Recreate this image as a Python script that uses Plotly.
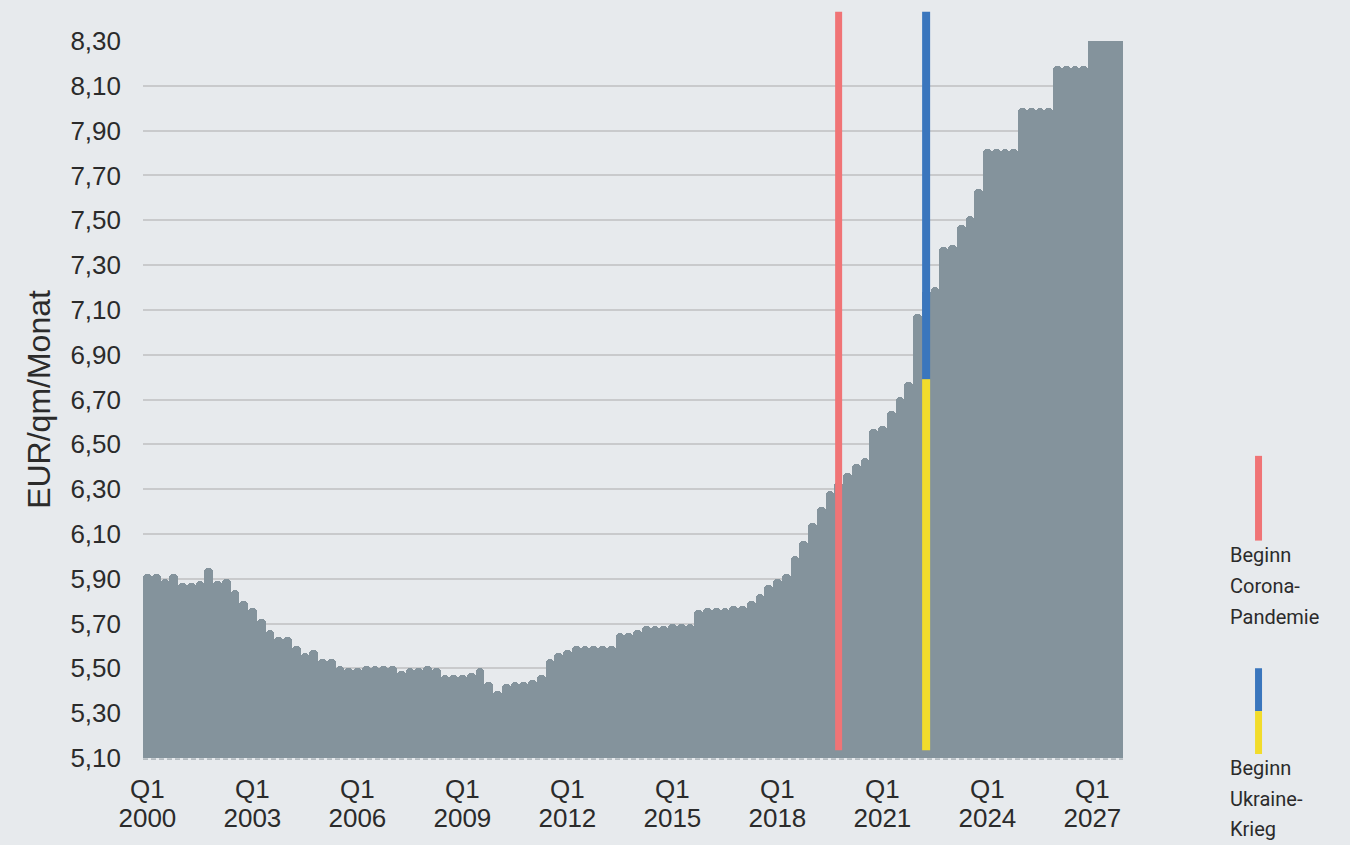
import plotly.graph_objects as go

# ---------------- data ----------------
years = list(range(2000, 2028))
quarters = [f"Q{q} {y}" for y in years for q in (1, 2, 3, 4)]

rent_eur_qm = [
    5.92, 5.92, 5.90, 5.92,   # 2000
    5.88, 5.88, 5.89, 5.95,   # 2001
    5.89, 5.90, 5.85, 5.80,   # 2002
    5.77, 5.72, 5.67, 5.64,   # 2003
    5.64, 5.60, 5.57, 5.58,   # 2004
    5.54, 5.54, 5.51, 5.50,   # 2005
    5.50, 5.51, 5.51, 5.51,   # 2006
    5.51, 5.49, 5.50, 5.50,   # 2007
    5.51, 5.50, 5.47, 5.47,   # 2008
    5.47, 5.48, 5.50, 5.44,   # 2009
    5.40, 5.43, 5.44, 5.44,   # 2010
    5.45, 5.47, 5.54, 5.57,   # 2011
    5.58, 5.60, 5.60, 5.60,   # 2012
    5.60, 5.60, 5.66, 5.66,   # 2013
    5.67, 5.69, 5.69, 5.69,   # 2014
    5.70, 5.70, 5.70, 5.76,   # 2015
    5.77, 5.77, 5.77, 5.78,   # 2016
    5.78, 5.80, 5.83, 5.87,   # 2017
    5.90, 5.92, 6.00, 6.07,   # 2018
    6.15, 6.22, 6.29, 6.33,   # 2019
    6.37, 6.41, 6.44, 6.57,   # 2020
    6.58, 6.65, 6.71, 6.78,   # 2021
    7.08, 7.19, 7.20, 7.38,   # 2022
    7.39, 7.48, 7.52, 7.64,   # 2023
    7.82, 7.82, 7.82, 7.82,   # 2024
    8.00, 8.00, 8.00, 8.00,   # 2025
    8.19, 8.19, 8.19, 8.19,   # 2026
    8.38, 8.38, 8.38, 8.38,   # 2027
]

tick_years = [2000, 2003, 2006, 2009, 2012, 2015, 2018, 2021, 2024, 2027]
tick_quarter_labels = ["Q1"] * len(tick_years)
tick_year_labels = [str(y) for y in tick_years]
y_ticks = [5.10, 5.30, 5.50, 5.70, 5.90, 6.10, 6.30, 6.50, 6.70, 6.90,
           7.10, 7.30, 7.50, 7.70, 7.90, 8.10, 8.30]

event_quarters = ["Q4 2019", "Q2 2022"]
event_labels = [["Beginn", "Corona-", "Pandemie"], ["Beginn", "Ukraine-", "Krieg"]]
ukraine_split_value = 6.79

# ---------------- style ----------------
BG = "#e7eaed"
BAR = "#84939c"
GRID = "#c9cacc"
RED = "#f07476"
BLUE = "#3a76bd"
YELLOW = "#f2dc2b"
TEXT = "#2b2b2b"
FONT = "Liberation Sans, Arial, sans-serif"
NARROW = "Roboto, sans-serif"

Y0, Y1 = y_ticks[0], y_ticks[-1]
LINE_TOP, LINE_BOTTOM = 8.43, 5.135
n = len(rent_eur_qm)
x_idx = list(range(n))
tick_pos = [quarters.index(f"Q1 {y}") for y in tick_years]


def px(k):
    return (k + 0.5) / n


def py(v):
    return (v - Y0) / (Y1 - Y0)


fig = go.Figure()
fig.add_trace(go.Bar(
    x=x_idx, y=rent_eur_qm, marker=dict(color=BAR, line=dict(width=0)),
    hovertext=quarters, hoverinfo="text+y", showlegend=False,
))
# invisible companion trace so the year-label axis is drawn
fig.add_trace(go.Scatter(
    x=x_idx, y=rent_eur_qm, xaxis="x2", mode="markers",
    marker=dict(size=1, opacity=0), hoverinfo="skip", showlegend=False,
))

shapes = []
# dashed axis base line
shapes.append(dict(type="line", xref="paper", yref="paper", x0=0, x1=1, y0=-0.0015, y1=-0.0015,
                   line=dict(color="#8d979e", width=1, dash="5px,3px")))
# Corona line
kc = quarters.index(event_quarters[0])
shapes.append(dict(type="line", xref="paper", yref="paper", x0=px(kc), x1=px(kc),
                   y0=py(LINE_BOTTOM), y1=py(LINE_TOP), line=dict(color=RED, width=7)))
# Ukraine line (blue over yellow)
ku = quarters.index(event_quarters[1])
shapes.append(dict(type="line", xref="paper", yref="paper", x0=px(ku), x1=px(ku),
                   y0=py(ukraine_split_value), y1=py(LINE_TOP), line=dict(color=BLUE, width=8)))
shapes.append(dict(type="line", xref="paper", yref="paper", x0=px(ku), x1=px(ku),
                   y0=py(LINE_BOTTOM), y1=py(ukraine_split_value), line=dict(color=YELLOW, width=8)))

# legend markers on the right
LX = 1.1383
shapes.append(dict(type="line", xref="paper", yref="paper", x0=LX, x1=LX, y0=0.3032, y1=0.4214,
                   line=dict(color=RED, width=7)))
shapes.append(dict(type="line", xref="paper", yref="paper", x0=LX, x1=LX, y0=0.0654, y1=0.1252,
                   line=dict(color=BLUE, width=7)))
shapes.append(dict(type="line", xref="paper", yref="paper", x0=LX, x1=LX, y0=0.0056, y1=0.0654,
                   line=dict(color=YELLOW, width=7)))

annotations = []
group_y = [[0.2837, 0.2392, 0.1961], [-0.0139, -0.0570, -0.0987]]
for lines, ys in zip(event_labels, group_y):
    for txt, yy in zip(lines, ys):
        annotations.append(dict(text=txt, xref="paper", yref="paper", x=1.1072, y=yy,
                                xanchor="left", yanchor="middle", showarrow=False,
                                font=dict(family=NARROW, size=20, color=TEXT)))

fig.update_layout(
    width=1350, height=845,
    margin=dict(l=143, r=227, t=41, b=85),
    paper_bgcolor=BG, plot_bgcolor=BG,
    bargap=0, barcornerradius=4,
    separators=",.",
    font=dict(family=FONT, color=TEXT, size=26),
    shapes=shapes, annotations=annotations,
    xaxis=dict(range=[-0.5, n - 0.5], tickmode="array", tickvals=tick_pos,
               ticktext=tick_quarter_labels, showgrid=False, zeroline=False, showline=False, ticks="",
               ticklabelstandoff=13, tickfont=dict(size=26, color=TEXT), fixedrange=True),
    xaxis2=dict(overlaying="x", matches="x", side="bottom", anchor="y",
                range=[-0.5, n - 0.5], tickmode="array", tickvals=tick_pos,
                ticktext=tick_year_labels, showgrid=False, zeroline=False, showline=False, ticks="",
                ticklabelstandoff=42, tickfont=dict(size=26, color=TEXT), fixedrange=True),
    yaxis=dict(range=[Y0, Y1], tickmode="array", tickvals=y_ticks, tickformat=".2f",
               showgrid=True, gridcolor=GRID, gridwidth=2, zeroline=False, showline=False,
               ticks="", ticklabelstandoff=21, tickfont=dict(size=26, color=TEXT), fixedrange=True,
               title=dict(text="EUR/qm/Monat", font=dict(size=32, color=TEXT), standoff=10)),
)

fig.write_html("out.html", config={"displayModeBar": False},
               post_script="document.body.style.margin='0';document.body.style.overflow='hidden';")
